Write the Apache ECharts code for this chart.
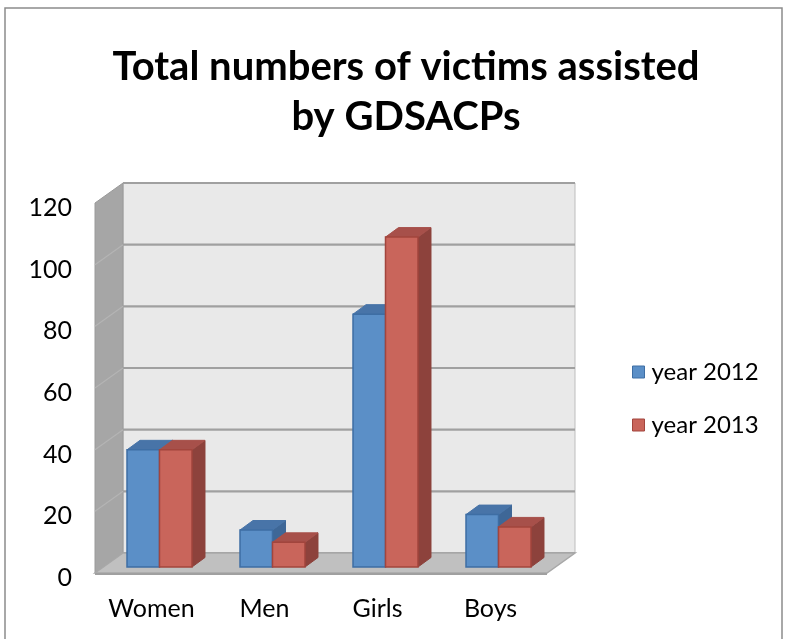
<!DOCTYPE html>
<html>
<head>
<meta charset="utf-8">
<script src="https://cdn.jsdelivr.net/npm/echarts@6/dist/echarts.min.js"></script>
<style>html,body{margin:0;padding:0;background:#fff;}#c{width:785px;height:639px;}</style>
</head>
<body>
<div id="c"></div>
<script>
var categories = ['Women', 'Men', 'Girls', 'Boys'];
var year2012 = [38, 12, 82, 17];
var year2013 = [38, 8, 107, 13];
var seriesNames = ['year 2012', 'year 2013'];
var yTicks = [0, 20, 40, 60, 80, 100, 120];

var FONT = 'Lato, "Open Sans", sans-serif';
var BACK = [28, -20];      // back wall offset from front plane
var BARF = [8, -6];        // bar front face offset
var BARD = [13, -9.5];     // bar depth
var BAR_RATIO = 0.2876;

var palette = [
  {front: '#5b8fc7', stroke: '#3e6ea4', top: '#4874a8', side: '#3e6797'},
  {front: '#c9655b', stroke: '#a2453d', top: '#a7504a', side: '#8d423c'}
];

function wallsRender(params, api) {
  var cs = params.coordSys;
  var x0 = cs.x, x1 = cs.x + cs.width, yb = cs.y + cs.height, yt = cs.y;
  var dx = BACK[0], dy = BACK[1];
  var children = [];
  children.push({type: 'polygon', shape: {points: [[x0+dx, yt+dy], [x1+dx, yt+dy], [x1+dx, yb+dy], [x0+dx, yb+dy]]},
    style: {fill: '#e9e9e9', stroke: '#bdbdbd', lineWidth: 1}});
  children.push({type: 'polygon', shape: {points: [[x0, yb], [x0, yt], [x0+dx, yt+dy], [x0+dx, yb+dy]]},
    style: {fill: '#a6a6a6', stroke: '#9a9a9a', lineWidth: 1}});
  for (var i = 0; i < yTicks.length; i++) {
    var y = api.coord([0, yTicks[i]])[1];
    children.push({type: 'line', shape: {x1: x0+dx, y1: y+dy, x2: x1+dx, y2: y+dy},
      style: {stroke: '#a0a0a0', lineWidth: 2.2}});
    if (i > 0 && i < yTicks.length - 1) {
      children.push({type: 'line', shape: {x1: x0, y1: y, x2: x0+dx, y2: y+dy},
        style: {stroke: '#b4b4b4', lineWidth: 1.2}});
    }
  }
  children.push({type: 'polygon', shape: {points: [[x0, yb], [x1, yb], [x1+dx, yb+dy], [x0+dx, yb+dy]]},
    style: {fill: '#c0c0c0', stroke: '#a8a8a8', lineWidth: 1.5}});
  children.push({type: 'line', shape: {x1: x0, y1: yb + 1, x2: x1, y2: yb + 1},
    style: {stroke: '#a0a0a0', lineWidth: 2}});
  return {type: 'group', children: children};
}

function makeBarRender(s) {
  return function (params, api) {
    var cat = api.value(0), v = api.value(1);
    var base = api.coord([cat, 0]);
    var top = api.coord([cat, v]);
    var w = api.size([1, 0])[0] * BAR_RATIO;
    var x0 = base[0] + (s === 0 ? -w : 0) + BARF[0];
    var x1 = x0 + w;
    var yb = base[1] + BARF[1];
    var yt = top[1] + BARF[1];
    var dx = BARD[0], dy = BARD[1];
    var c = palette[s];
    return {type: 'group', children: [
      {type: 'polygon', shape: {points: [[x1, yt], [x1+dx, yt+dy], [x1+dx, yb+dy], [x1, yb]]},
        style: {fill: c.side, stroke: c.side, lineWidth: 1}},
      {type: 'polygon', shape: {points: [[x0, yt], [x1, yt], [x1+dx, yt+dy], [x0+dx, yt+dy]]},
        style: {fill: c.top, stroke: c.top, lineWidth: 1}},
      {type: 'rect', shape: {x: x0, y: yt, width: w, height: yb - yt},
        style: {fill: c.front, stroke: c.stroke, lineWidth: 1.5}}
    ]};
  };
}

var chart = echarts.init(document.getElementById('c'));
chart.setOption({
  animation: false,
  backgroundColor: '#ffffff',
  graphic: [{type: 'rect', shape: {x: 5, y: 8, width: 777, height: 660},
    style: {fill: 'none', stroke: '#8c8c8c', lineWidth: 1.5}, silent: true, z: -10}],
  title: {
    text: 'Total numbers of victims assisted\nby GDSACPs',
    left: 401, top: 37, textAlign: 'center',
    textStyle: {fontFamily: FONT, fontWeight: 'bold', fontSize: 40, lineHeight: 50, color: '#000'}
  },
  legend: {
    orient: 'vertical', left: 627, top: 355, itemWidth: 12, itemHeight: 12, itemGap: 29,
    textStyle: {fontFamily: FONT, fontSize: 24, color: '#000', padding: [0, 0, 0, 2]},
    data: [
      {name: seriesNames[0], icon: 'rect', itemStyle: {color: palette[0].front, borderColor: palette[0].stroke, borderWidth: 1}},
      {name: seriesNames[1], icon: 'rect', itemStyle: {color: palette[1].front, borderColor: palette[1].stroke, borderWidth: 1}}
    ]
  },
  grid: {left: 95, right: 238, top: 203, bottom: 66},
  xAxis: {
    type: 'category', data: categories,
    axisLine: {show: false}, axisTick: {show: false}, splitLine: {show: false},
    axisLabel: {fontFamily: FONT, fontSize: 25, color: '#000', margin: 23}
  },
  yAxis: {
    type: 'value', min: 0, max: 120, interval: 20,
    axisLine: {show: false}, axisTick: {show: false}, splitLine: {show: false},
    axisLabel: {
      margin: 23,
      formatter: '{a|{value}}',
      rich: {a: {fontFamily: FONT, fontSize: 25, color: '#000', padding: [10, 0, 0, 0]}}
    }
  },
  series: [
    {type: 'custom', name: 'walls', renderItem: wallsRender, data: [[0, 0]], clip: false, z: 1, silent: true},
    {type: 'custom', name: seriesNames[0], renderItem: makeBarRender(0), clip: false, z: 2,
      itemStyle: {color: palette[0].front},
      data: categories.map(function (c, i) { return [i, year2012[i]]; })},
    {type: 'custom', name: seriesNames[1], renderItem: makeBarRender(1), clip: false, z: 3,
      itemStyle: {color: palette[1].front},
      data: categories.map(function (c, i) { return [i, year2013[i]]; })}
  ]
});
</script>
</body>
</html>
